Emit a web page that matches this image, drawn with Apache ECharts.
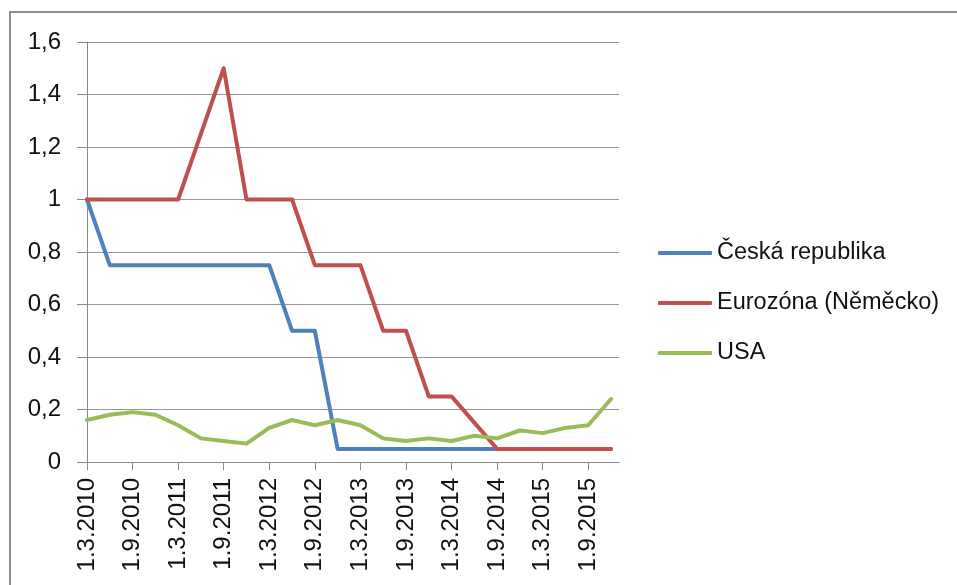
<!DOCTYPE html>
<html>
<head>
<meta charset="utf-8">
<script src="https://cdn.jsdelivr.net/npm/echarts@6/dist/echarts.min.js"></script>
<style>
  html, body { margin: 0; padding: 0; background: #fff; }
  #chart { width: 957px; height: 585px; }
</style>
</head>
<body>
<div id="chart"></div>
<script>
// quarterly dates (x axis)
const categories = [
  '1.3.2010', '1.6.2010', '1.9.2010', '1.12.2010',
  '1.3.2011', '1.6.2011', '1.9.2011', '1.12.2011',
  '1.3.2012', '1.6.2012', '1.9.2012', '1.12.2012',
  '1.3.2013', '1.6.2013', '1.9.2013', '1.12.2013',
  '1.3.2014', '1.6.2014', '1.9.2014', '1.12.2014',
  '1.3.2015', '1.6.2015', '1.9.2015', '1.12.2015'
]
const seriesNames = ['Česká republika', 'Eurozóna (Něměcko)', 'USA']
const czValues = [1, 0.75, 0.75, 0.75, 0.75, 0.75, 0.75, 0.75, 0.75, 0.5, 0.5, 0.05,
  0.05, 0.05, 0.05, 0.05, 0.05, 0.05, 0.05, 0.05, 0.05, 0.05, 0.05, 0.05]
const euValues = [1, 1, 1, 1, 1, 1.25, 1.5, 1, 1, 1, 0.75, 0.75,
  0.75, 0.5, 0.5, 0.25, 0.25, 0.15, 0.05, 0.05, 0.05, 0.05, 0.05, 0.05]
const usaValues = [0.16, 0.18, 0.19, 0.18, 0.14, 0.09, 0.08, 0.07, 0.13, 0.16, 0.14, 0.16,
  0.14, 0.09, 0.08, 0.09, 0.08, 0.10, 0.09, 0.12, 0.11, 0.13, 0.14, 0.24]
const yTicks = [0, 0.2, 0.4, 0.6, 0.8, 1, 1.2, 1.4, 1.6]

const colors = ['#4F81BD', '#C0504D', '#9BBB59']
const font = '"Liberation Sans", Arial, sans-serif'

// every other quarter gets a tick + label
const labelIdx = categories.map((c, i) => i).filter(i => i % 2 === 0)

const chart = echarts.init(document.getElementById('chart'), null, { renderer: 'canvas' })

const makeLine = (name, values, color) => ({
  name: name,
  type: 'line',
  symbol: 'none',
  data: values.map((v, i) => [i, v]),
  lineStyle: { color: color, width: 4, cap: 'round', join: 'round' },
  itemStyle: { color: color }
})

const option = {
  animation: false,
  backgroundColor: '#fff',
  graphic: [
    {
      type: 'rect',
      shape: { x: 10, y: 12, width: 1200, height: 900 },
      style: { fill: 'none', stroke: '#8c8c8c', lineWidth: 2 }
    }
  ],
  grid: {
    left: 87,
    top: 42,
    right: 338,
    bottom: 123
  },
  legend: {
    orient: 'vertical',
    left: 658,
    top: 238,
    padding: 0,
    itemWidth: 54,
    itemHeight: 4,
    itemGap: 20,
    icon: 'roundRect',
    data: seriesNames,
    textStyle: {
      fontFamily: font,
      fontSize: 23.5,
      lineHeight: 30,
      color: '#111'
    }
  },
  xAxis: {
    type: 'value',
    min: 0,
    max: 23.35,
    splitLine: { show: false },
    axisLine: { lineStyle: { color: '#888', width: 1 } },
    axisTick: {
      length: 8,
      customValues: labelIdx,
      lineStyle: { color: '#888' }
    },
    axisLabel: {
      customValues: labelIdx,
      rotate: 90,
      margin: 16,
      padding: [8, 0, 0, 0],
      fontFamily: font,
      fontSize: 24,
      color: '#111',
      formatter: v => categories[Math.round(v)] || ''
    }
  },
  yAxis: {
    type: 'value',
    min: yTicks[0],
    max: yTicks[yTicks.length - 1],
    interval: 0.2,
    axisLine: { show: true, lineStyle: { color: '#888', width: 1 } },
    axisTick: { show: true, length: 10, lineStyle: { color: '#888' } },
    splitLine: { lineStyle: { color: '#979797', width: 1 } },
    axisLabel: {
      margin: 26,
      fontFamily: font,
      fontSize: 24,
      color: '#111',
      formatter: v => String(+v.toFixed(1)).replace('.', ',')
    }
  },
  series: [
    makeLine(seriesNames[0], czValues, colors[0]),
    makeLine(seriesNames[1], euValues, colors[1]),
    makeLine(seriesNames[2], usaValues, colors[2])
  ]
}

chart.setOption(option)

window.addEventListener('resize', () => chart.resize())
</script>
</body>
</html>
